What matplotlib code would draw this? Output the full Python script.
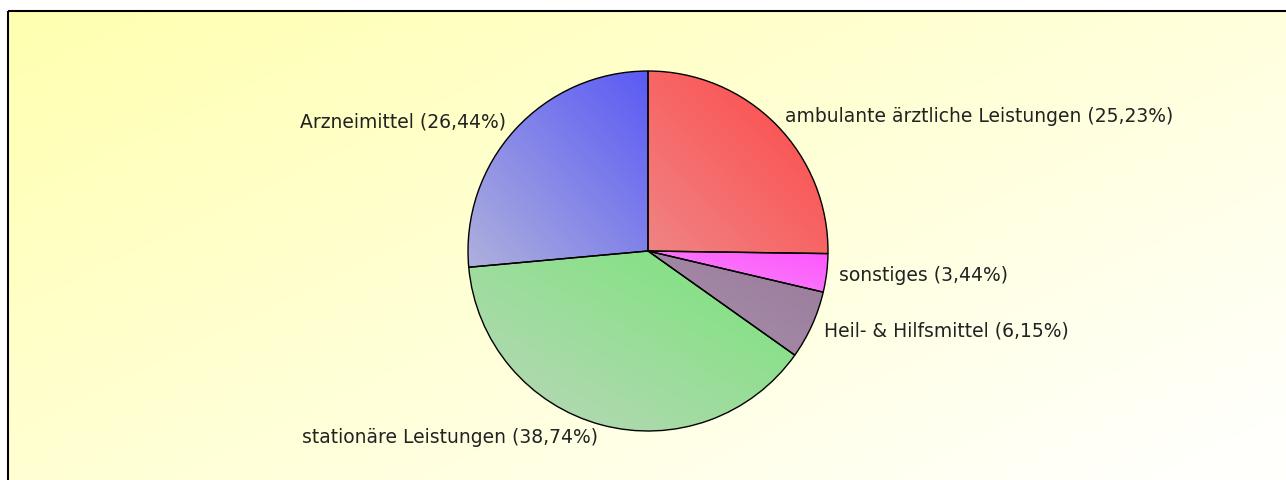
import numpy as np
import matplotlib
matplotlib.use("Agg")
import matplotlib.pyplot as plt
from matplotlib.colors import to_rgb
from matplotlib.patches import Rectangle

# Anteile in Prozent, im Uhrzeigersinn ab 12 Uhr
kategorien = ["ambulante ärztliche Leistungen", "sonstiges", "Heil- & Hilfsmittel",
              "stationäre Leistungen", "Arzneimittel"]
anteile = [25.23, 3.44, 6.15, 38.74, 26.44]
labels = [f"{k} ({str(v).replace('.', ',')}%)" for k, v in zip(kategorien, anteile)]

# kräftige Farbe oben rechts, blasse Farbe unten links
farben_stark = ["#ff4646", "#ff55ff", "#9a7a9a", "#78e478", "#5a5af5"]
farben_blass = ["#f08484", "#f58af5", "#a890ad", "#bcd6bc", "#aeb0dc"]

fig = plt.figure(figsize=(12.86, 4.81), dpi=100)

# Hintergrund mit gelbem Verlauf
bg = fig.add_axes([0, 0, 1, 1])
bg.set_xlim(0, 1286)
bg.set_ylim(481, 0)
bg.axis("off")
yy, xx = np.mgrid[0:1:120j, 0:1:300j]
t = np.clip(0.6 * xx + 0.45 * yy, 0, 1)[..., None]
gelb = np.array(to_rgb("#ffffb0"))
weiss = np.array(to_rgb("#fffffc"))
bg.imshow(gelb * (1 - t) + weiss * t, extent=[8, 1286, 481, 12], aspect="auto")
bg.add_patch(Rectangle((8, 12), 1290, 480, fill=False, ec="black", lw=1.5))

r_px = 180
cx, cy = 648, 481 - 252
ax = fig.add_axes([(cx - r_px) / 1286, (cy - r_px) / 481, 2 * r_px / 1286, 2 * r_px / 481])
wedges, texts = ax.pie(anteile, labels=labels, startangle=90, counterclock=False,
                       labeldistance=1.07, colors=farben_stark,
                       wedgeprops=dict(edgecolor="black", linewidth=1.0),
                       textprops=dict(fontsize=13.5, color="#222222", family="DejaVu Sans"))
ax.set_aspect("equal")
ax.axis("off")

# Farbverlauf in jedem Segment
for w, c1, c2 in zip(wedges, farben_stark, farben_blass):
    ext = w.get_path().get_extents()
    x0, y0, x1, y1 = ext.x0, ext.y0, ext.x1, ext.y1
    gy, gx = np.mgrid[1:0:100j, 0:1:100j]
    s = np.clip((gx + gy) / 2, 0, 1)[..., None]
    img = np.array(to_rgb(c2)) * (1 - s) + np.array(to_rgb(c1)) * s
    im = ax.imshow(img, extent=[x0, x1, y0, y1], aspect="auto", zorder=w.get_zorder() - 0.1)
    im.set_clip_path(w)
    w.set_facecolor("none")
ax.set_xlim(-1, 1)
ax.set_ylim(-1, 1)
for tx in texts:
    tx.set_clip_on(False)

fig.savefig("out.png", dpi=100)
